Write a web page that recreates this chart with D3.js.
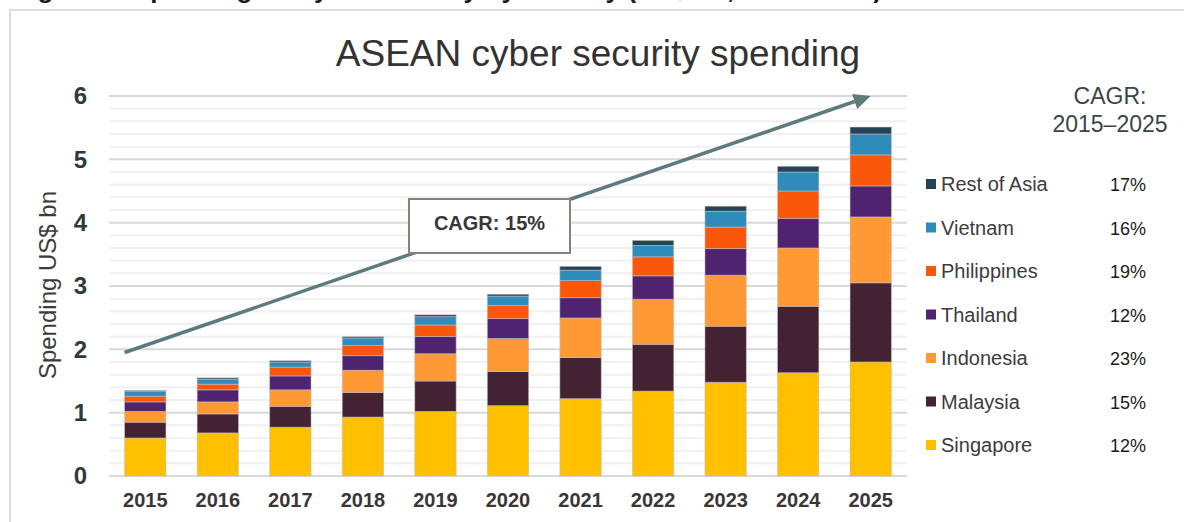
<!DOCTYPE html>
<html>
<head>
<meta charset="utf-8">
<script src="https://cdn.jsdelivr.net/npm/d3@7"></script>
<style>
  body { margin: 0; background: #fff; }
  svg { display: block; font-family: "Liberation Sans", Arial, sans-serif; }
</style>
</head>
<body>
<svg id="chart" width="1184" height="522"></svg>
<script>
// categories
var years = ["2015", "2016", "2017", "2018", "2019", "2020", "2021", "2022", "2023", "2024", "2025"];
var countries = ["Singapore", "Malaysia", "Indonesia", "Thailand", "Philippines", "Vietnam", "Rest of Asia"];

// spending, US$ bn
var singapore   = [0.60, 0.68, 0.77, 0.93, 1.02, 1.11, 1.22, 1.34, 1.48, 1.63, 1.80];
var malaysia    = [0.25, 0.30, 0.33, 0.39, 0.48, 0.54, 0.65, 0.74, 0.885, 1.05, 1.25];
var indonesia   = [0.17, 0.19, 0.26, 0.35, 0.43, 0.52, 0.625, 0.71, 0.805, 0.92, 1.04];
var thailand    = [0.15, 0.19, 0.22, 0.23, 0.275, 0.315, 0.32, 0.37, 0.42, 0.47, 0.49];
var philippines = [0.09, 0.09, 0.14, 0.16, 0.18, 0.205, 0.27, 0.30, 0.34, 0.43, 0.49];
var vietnam     = [0.08, 0.08, 0.08, 0.12, 0.13, 0.15, 0.165, 0.18, 0.25, 0.30, 0.33];
var restOfAsia  = [0.01, 0.02, 0.02, 0.02, 0.03, 0.03, 0.06, 0.08, 0.08, 0.09, 0.11];

// CAGR 2015-2025 per country (same order as countries)
var cagr = ["12%", "15%", "23%", "12%", "19%", "16%", "17%"];
var totalCagr = "CAGR: 15%";

var colors = ["#ffc000", "#432232", "#ff9933", "#502370", "#f9580a", "#2e8bba", "#254356"];

var svg = d3.select("#chart");

// cut-off caption at the very top
svg.append("text")
    .attr("x", 14).attr("y", -2)
    .attr("textLength", 868)
    .style("font-size", "26px").style("font-weight", "bold").style("fill", "#1a1a1a")
    .text("Figure 6: Spending on cyber security by country (US$ bn, 2015\u20132025)");

// panel border
svg.append("rect")
    .attr("x", 10).attr("y", 10).attr("width", 1200).attr("height", 540)
    .attr("fill", "none").attr("stroke", "#dcdcdc").attr("stroke-width", 2);

// title
svg.append("text")
    .attr("x", 598).attr("y", 66)
    .attr("text-anchor", "middle")
    .style("font-size", "37px").style("fill", "#333")
    .text("ASEAN cyber security spending");

var x = d3.scaleBand().domain(years).range([109, 907]).paddingInner(0.43).paddingOuter(0.215);
var y = d3.scaleLinear().domain([0, 6]).range([476, 96]);

// grid lines: light every 0.2, darker on integers
var minor = d3.range(0, 6.001, 0.2).map(function(v){ return Math.round(v * 10) / 10; });
svg.append("g").selectAll("line")
    .data(minor.filter(function(v){ return v % 1 !== 0; }))
    .enter().append("line")
    .attr("x1", 109).attr("x2", 907)
    .attr("y1", function(d){ return y(d); }).attr("y2", function(d){ return y(d); })
    .attr("stroke", "#f0f0f0").attr("stroke-width", 2);
svg.append("g").selectAll("line")
    .data(d3.range(0, 7))
    .enter().append("line")
    .attr("x1", 109).attr("x2", 907)
    .attr("y1", function(d){ return y(d); }).attr("y2", function(d){ return y(d); })
    .attr("stroke", "#d9d9d9").attr("stroke-width", 2);

// stacked bars
var table = years.map(function(yr, i){
    return {
        year: yr,
        "Singapore": singapore[i], "Malaysia": malaysia[i], "Indonesia": indonesia[i],
        "Thailand": thailand[i], "Philippines": philippines[i], "Vietnam": vietnam[i],
        "Rest of Asia": restOfAsia[i]
    };
});
var stacked = d3.stack().keys(countries)(table);

svg.append("g").selectAll("g")
    .data(stacked)
    .enter().append("g")
    .attr("fill", function(d, i){ return colors[i]; })
    .selectAll("rect")
    .data(function(d){ return d; })
    .enter().append("rect")
    .attr("x", function(d){ return x(d.data.year); })
    .attr("y", function(d){ return y(d[1]); })
    .attr("width", x.bandwidth())
    .attr("height", function(d){ return y(d[0]) - y(d[1]); })
    .attr("stroke", "rgba(200,190,195,0.7)")
    .attr("stroke-width", 0.8);

// axes
var yAxis = svg.append("g")
    .attr("transform", "translate(109,0)")
    .call(d3.axisLeft(y).ticks(6).tickSize(0).tickPadding(22));
yAxis.select(".domain").remove();
yAxis.selectAll("text")
    .style("font-size", "24px").style("font-weight", "bold").style("fill", "#2f3a3e")
    .style("font-family", "\"Liberation Sans\", Arial, sans-serif");

var xAxis = svg.append("g")
    .attr("transform", "translate(0,476)")
    .call(d3.axisBottom(x).tickSize(0).tickPadding(17));
xAxis.select(".domain").remove();
xAxis.selectAll("text")
    .style("font-size", "20px").style("font-weight", "bold").style("fill", "#3a3636")
    .style("font-family", "\"Liberation Sans\", Arial, sans-serif");

// y axis title
svg.append("text")
    .attr("transform", "translate(56,285) rotate(-90)")
    .attr("text-anchor", "middle")
    .style("font-size", "24px").style("fill", "#3c3c3c")
    .text("Spending US$ bn");

// CAGR arrow
var x0 = x("2015"), y0 = y(1.95);
var x1 = x("2025") + x.bandwidth() / 2, y1 = y(6.0);
var ang = Math.atan2(y1 - y0, x1 - x0);
var headLen = 17, headW = 8;
var lx = x1 - headLen * Math.cos(ang), ly = y1 - headLen * Math.sin(ang);
svg.append("line")
    .attr("x1", x0).attr("y1", y0).attr("x2", lx).attr("y2", ly)
    .attr("stroke", "#5d7a7d").attr("stroke-width", 3.5);
svg.append("path")
    .attr("d", "M" + x1 + "," + y1 +
        "L" + (lx + headW * Math.sin(ang)) + "," + (ly - headW * Math.cos(ang)) +
        "L" + (lx - headW * Math.sin(ang)) + "," + (ly + headW * Math.cos(ang)) + "Z")
    .attr("fill", "#5d7a7d");

// CAGR box
var bx = 409, by = 199, bw = 161, bh = 54;
svg.append("rect")
    .attr("x", bx).attr("y", by).attr("width", bw).attr("height", bh)
    .attr("fill", "#fff").attr("stroke", "#8b817a").attr("stroke-width", 2);
svg.append("text")
    .attr("x", bx + bw / 2).attr("y", by + 31)
    .attr("text-anchor", "middle")
    .style("font-size", "20px").style("font-weight", "bold").style("fill", "#3a3636")
    .text(totalCagr);

// legend header
svg.append("text")
    .attr("x", 1110).attr("y", 104)
    .attr("text-anchor", "middle")
    .style("font-size", "23px").style("fill", "#3a4547")
    .text("CAGR:");
svg.append("text")
    .attr("x", 1110).attr("y", 132)
    .attr("text-anchor", "middle")
    .style("font-size", "23px").style("fill", "#3a4547")
    .text("2015\u20132025");

// legend rows, top = last series
var legendOrder = countries.map(function(c, i){ return i; }).reverse();
var leg = svg.append("g").selectAll("g")
    .data(legendOrder)
    .enter().append("g")
    .attr("transform", function(d, k){ return "translate(0," + (184 + k * 43.5) + ")"; });
leg.append("rect")
    .attr("x", 926).attr("y", -5).attr("width", 10).attr("height", 10)
    .attr("fill", function(d){ return colors[d]; });
leg.append("text")
    .attr("x", 941).attr("y", 7)
    .style("font-size", "20px").style("fill", "#3c3c3c")
    .text(function(d){ return countries[d]; });
leg.append("text")
    .attr("x", 1146).attr("y", 7)
    .attr("text-anchor", "end")
    .style("font-size", "18px").style("fill", "#1a1a1a")
    .text(function(d){ return cagr[d]; });
</script>
</body>
</html>
